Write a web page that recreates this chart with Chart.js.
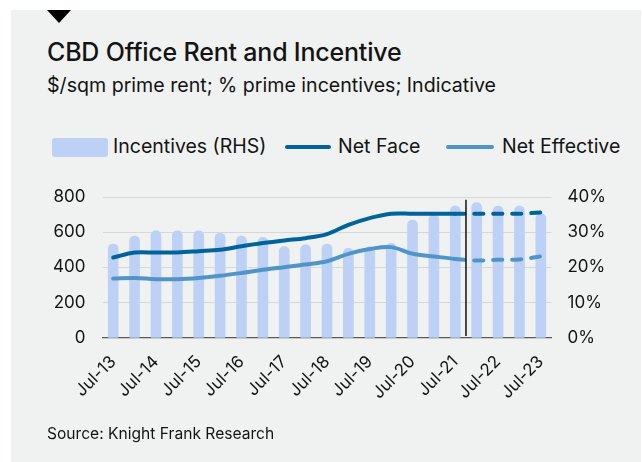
<!DOCTYPE html>
<html>
<head>
<meta charset="utf-8">
<title>CBD Office Rent and Incentive</title>
<script src="https://cdn.jsdelivr.net/npm/chart.js@4.4.0/dist/chart.umd.min.js"></script>
<style>
  html, body { margin: 0; padding: 0; background: #ffffff; }
  body {
    width: 643px; height: 462px; position: relative; overflow: hidden;
    font-family: Inter, "Noto Sans", Roboto, sans-serif; color: #141414;
  }
  #panel { position: absolute; left: 11px; top: 10px; width: 630px; height: 452px; background: #eff2f1; }
  #marker {
    position: absolute; left: 47px; top: 10px; width: 0; height: 0;
    border-left: 12.5px solid transparent; border-right: 12.5px solid transparent;
    border-top: 13px solid #000;
  }
  .txt { position: absolute; white-space: nowrap; line-height: 1; }
  #title { left: 47px; top: 40px; font-size: 25px; font-weight: 500; letter-spacing: -0.2px; }
  #subtitle { left: 47px; top: 76px; font-size: 19.6px; }
  #source { left: 47px; top: 426px; font-size: 15.6px; }
  .swatch { position: absolute; }
  .legtxt { position: absolute; font-size: 19.5px; line-height: 1; white-space: nowrap; }
  canvas { position: absolute; left: 0; top: 0; }
</style>
</head>
<body>
<div id="panel"></div>
<div id="marker"></div>
<div class="txt" id="title">CBD Office Rent and Incentive</div>
<div class="txt" id="subtitle">$/sqm prime rent; % prime incentives; Indicative</div>
<div id="legend"></div>
<canvas id="chart" width="643" height="462"></canvas>
<div class="txt" id="source">Source: Knight Frank Research</div>

<script>
// Half-yearly periods, Jul-13 to Jul-23
const categories = [
  'Jul-13', 'Jan-14', 'Jul-14', 'Jan-15', 'Jul-15', 'Jan-16', 'Jul-16',
  'Jan-17', 'Jul-17', 'Jan-18', 'Jul-18', 'Jan-19', 'Jul-19', 'Jan-20',
  'Jul-20', 'Jan-21', 'Jul-21', 'Jan-22', 'Jul-22', 'Jan-23', 'Jul-23'
];

// Prime incentives, % (right axis)
const incentives = [
  26.7, 29.0, 30.5, 30.5, 30.5, 29.8, 29.0,
  28.6, 26.0, 26.5, 26.7, 25.5, 25.9, 26.9,
  33.5, 35.0, 37.5, 38.5, 37.5, 37.5, 35.4
];

// Prime net face rent, $/sqm (left axis)
const netFace = [
  456, 484, 484, 485, 492, 500, 520,
  538, 553, 566, 589, 642, 680, 705,
  705, 705, 705, 705, 705, 705, 712
];

// Prime net effective rent, $/sqm (left axis)
const netEffective = [
  336, 340, 333, 333, 340, 352, 368,
  386, 401, 416, 435, 477, 504, 515,
  477, 462, 448, 439, 443, 445, 462
];

const rentTicks = [0, 200, 400, 600, 800];
const incentiveTicks = [0, 10, 20, 30, 40];

// Projections start after this period (Jul-21)
const forecastFrom = 16;

const FONT = 'Inter, "Noto Sans", Roboto, sans-serif';
const INK = '#141414';
const BAR_COLOR = '#bcd1f5';
const FACE_COLOR = '#00639b';
const EFFECTIVE_COLOR = '#5095c9';

const projected = (ctx) => ctx.p0DataIndex >= forecastFrom ? [9, 10] : undefined;

// Vertical divider between actual and projected periods
const forecastDivider = {
  id: 'forecastDivider',
  afterDatasetsDraw(chart) {
    const x = chart.scales.x;
    const y = chart.scales.y;
    const px = (x.getPixelForValue(forecastFrom) + x.getPixelForValue(forecastFrom + 1)) / 2;
    const ctx = chart.ctx;
    ctx.save();
    ctx.strokeStyle = '#111111';
    ctx.lineWidth = 1.5;
    ctx.beginPath();
    ctx.moveTo(px, y.getPixelForValue(785));
    ctx.lineTo(px, y.getPixelForValue(10));
    ctx.stroke();
    ctx.restore();
  }
};

const datasets = [
  {
    type: 'line', label: 'Net Face', data: netFace, yAxisID: 'y', order: 0,
    borderColor: FACE_COLOR, borderWidth: 4, tension: 0.35, pointRadius: 0,
    borderCapStyle: 'round', borderJoinStyle: 'round', fill: false,
    segment: { borderDash: projected }
  },
  {
    type: 'line', label: 'Net Effective', data: netEffective, yAxisID: 'y', order: 0,
    borderColor: EFFECTIVE_COLOR, borderWidth: 4, tension: 0.35, pointRadius: 0,
    borderCapStyle: 'round', borderJoinStyle: 'round', fill: false,
    segment: { borderDash: projected }
  },
  {
    type: 'bar', label: 'Incentives (RHS)', data: incentives, yAxisID: 'y1', order: 1,
    backgroundColor: BAR_COLOR, barPercentage: 0.5, categoryPercentage: 1,
    borderRadius: 5, borderSkipped: false, base: -0.85
  }
];

// Legend
const legendItems = [
  { label: 'Incentives (RHS)', color: BAR_COLOR, kind: 'box', x: 52, w: 56, tx: 113 },
  { label: 'Net Face', color: FACE_COLOR, kind: 'line', x: 285, w: 46, tx: 338 },
  { label: 'Net Effective', color: EFFECTIVE_COLOR, kind: 'line', x: 446, w: 48, tx: 502 }
];
const legendEl = document.getElementById('legend');
const legendMid = 147;
legendItems.forEach(it => {
  const sw = document.createElement('div');
  sw.className = 'swatch';
  sw.style.left = it.x + 'px';
  sw.style.width = it.w + 'px';
  sw.style.background = it.color;
  if (it.kind === 'box') {
    sw.style.top = (legendMid - 9.5) + 'px';
    sw.style.height = '19px';
    sw.style.borderRadius = '3px';
  } else {
    sw.style.top = (legendMid - 2) + 'px';
    sw.style.height = '4px';
    sw.style.borderRadius = '2px';
  }
  legendEl.appendChild(sw);
  const t = document.createElement('div');
  t.className = 'legtxt';
  t.textContent = it.label;
  t.style.left = it.tx + 'px';
  t.style.top = (legendMid - 10) + 'px';
  legendEl.appendChild(t);
});

new Chart(document.getElementById('chart'), {
  data: { labels: categories, datasets },
  options: {
    responsive: false,
    animation: false,
    devicePixelRatio: 1,
    layout: { padding: { top: 197, left: 0, right: 0, bottom: 0 } },
    plugins: { legend: { display: false }, tooltip: { enabled: false } },
    scales: {
      x: {
        type: 'category', offset: true, z: 1,
        grid: { display: false, drawTicks: false },
        border: { display: true, color: '#5a5a5a', width: 1.3 },
        ticks: {
          autoSkip: false, minRotation: 45, maxRotation: 45, padding: 14,
          color: INK, font: { family: FONT, size: 17 },
          callback(value) {
            const l = this.getLabelForValue(value);
            return l.startsWith('Jul') ? l : '';
          }
        },
        afterFit(s) { s.height = 462 - 337.7; }
      },
      y: {
        position: 'left', min: 0, max: 800,
        afterBuildTicks(s) { s.ticks = rentTicks.map(v => ({ value: v })); },
        grid: { color: '#d5d8d8', lineWidth: 1, drawTicks: false },
        border: { display: false },
        ticks: { color: INK, padding: 17, font: { family: FONT, size: 17 } },
        afterFit(s) { s.width = 102.5; }
      },
      y1: {
        position: 'right', min: 0, max: 40,
        afterBuildTicks(s) { s.ticks = incentiveTicks.map(v => ({ value: v })); },
        grid: { display: false, drawTicks: false },
        border: { display: false },
        ticks: { color: INK, padding: 16, font: { family: FONT, size: 17 }, callback: v => v + '%' },
        afterFit(s) { s.width = 643 - 551.5; }
      }
    }
  },
  plugins: [forecastDivider]
});
</script>
</body>
</html>
